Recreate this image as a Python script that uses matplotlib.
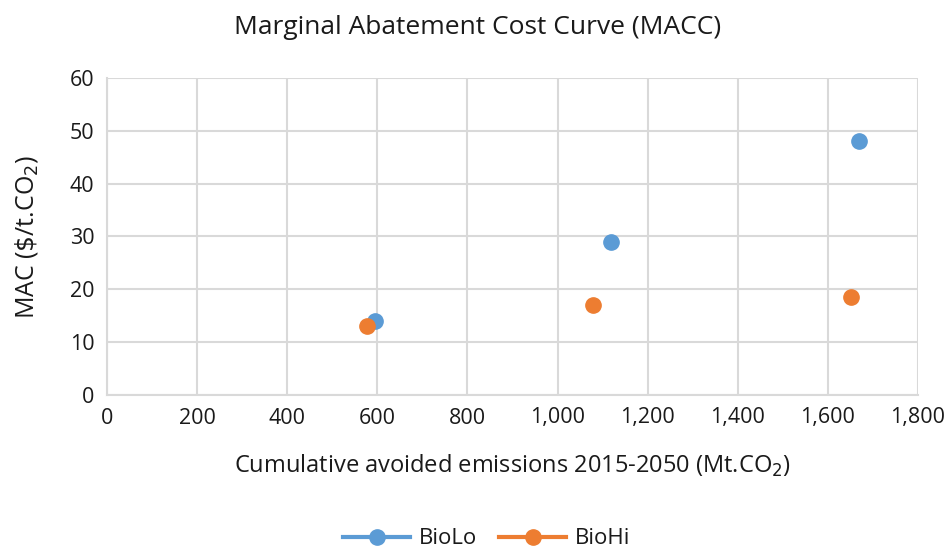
import matplotlib
matplotlib.use("Agg")
from matplotlib import pyplot as plt
from matplotlib.ticker import FuncFormatter

plt.rcParams['font.family'] = ['Open Sans', 'DejaVu Sans']

# cumulative avoided emissions (Mt.CO2) and marginal abatement cost ($/t.CO2)
biolo_x = [595, 1118, 1670]
biolo_y = [14, 29, 48]
biohi_x = [578, 1078, 1652]
biohi_y = [13, 17, 18.5]

blue = '#5B9BD5'
orange = '#ED7D31'
grid_col = '#D9D9D9'
text_col = '#1a1a1a'

fig = plt.figure(figsize=(9.45, 5.49), dpi=100)
ax = fig.add_axes([107 / 945, 1 - 395 / 549, 811 / 945, 317 / 549])

ax.plot(biolo_x, biolo_y, 'o', color=blue, markersize=11, label='BioLo', zorder=3)
ax.plot(biohi_x, biohi_y, 'o', color=orange, markersize=11, label='BioHi', zorder=3)

ax.set_xlim(0, 1800)
ax.set_ylim(0, 60)
ax.set_xticks(range(0, 1801, 200))
ax.set_yticks(range(0, 61, 10))
ax.xaxis.set_major_formatter(FuncFormatter(lambda v, p: f'{int(v):,}'))
ax.grid(True, color=grid_col, linewidth=1.5)
ax.set_axisbelow(True)
for s in ['top', 'right']:
    ax.spines[s].set_visible(False)
for s in ['left', 'bottom']:
    ax.spines[s].set_color(grid_col)
    ax.spines[s].set_linewidth(1.5)
ax.tick_params(length=0, labelsize=15.5, colors=text_col, pad=9)

ax.set_xlabel('Cumulative avoided emissions 2015-2050 (Mt.CO$_2$)', fontsize=17, color=text_col)
ax.xaxis.set_label_coords(0.5, -(453 - 395) / 317)
ax.set_ylabel('MAC ($\\$$/t.CO$_2$)', fontsize=18, color=text_col)
ax.yaxis.set_label_coords(-(107 - 40) / 811, 0.5)
fig.text(0.505, 1 - 28 / 549, 'Marginal Abatement Cost Curve (MACC)', ha='center', va='center', fontsize=19, color=text_col)

leg = fig.legend(handles=[
    plt.Line2D([], [], color=blue, marker='o', markersize=11, linewidth=3, label='BioLo'),
    plt.Line2D([], [], color=orange, marker='o', markersize=11, linewidth=3, label='BioHi')],
    loc='center', bbox_to_anchor=(0.515, 1 - 539 / 549), ncol=2, frameon=False,
    fontsize=16, handlelength=3, columnspacing=1.0, handletextpad=0.4)
for t in leg.get_texts():
    t.set_color(text_col)

fig.savefig('out.png', dpi=100)
